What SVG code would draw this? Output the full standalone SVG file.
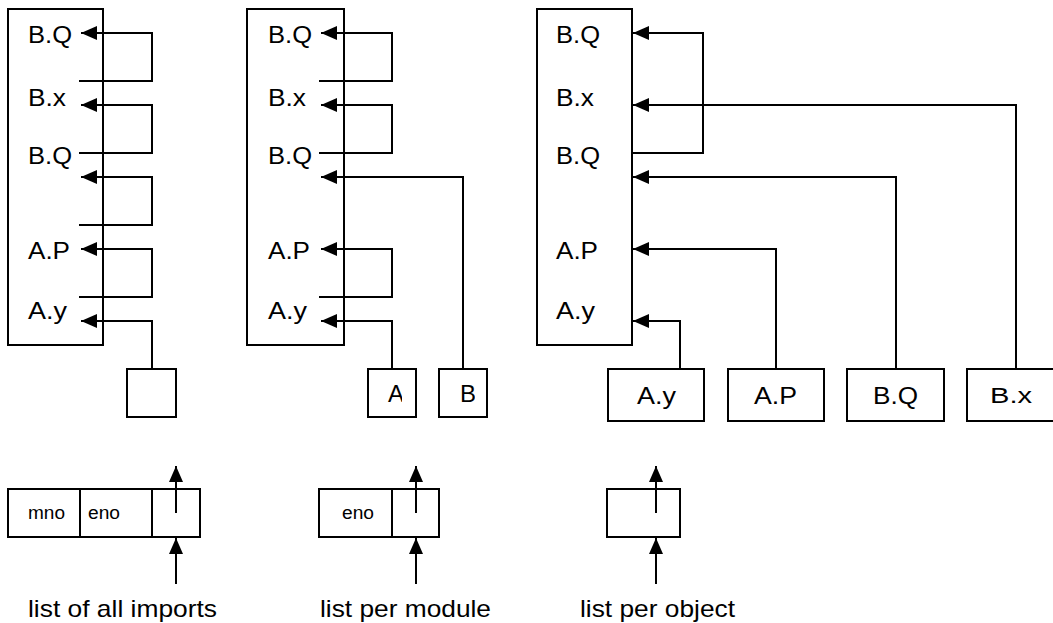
<svg xmlns="http://www.w3.org/2000/svg" width="1053" height="623" viewBox="0 0 1053 623">
<style>
rect,path,line{fill:none;stroke:#000;stroke-width:2}
rect{fill:#fff}
text{font-family:"Liberation Sans",Arial,sans-serif;font-size:24px;fill:#000}
.s{font-size:18px}
.b{font-size:22px}
</style>
<defs>
<marker id="ah" markerUnits="userSpaceOnUse" markerWidth="18" markerHeight="16" refX="16" refY="7" orient="auto">
<path d="M0,0 L16,7 L0,14 Z" style="fill:#000;stroke:none"/>
</marker>
<clipPath id="cA"><rect x="368" y="369" width="34" height="48"/></clipPath>
<clipPath id="cB"><rect x="439" y="369" width="36" height="48"/></clipPath>
</defs>
<rect x="0" y="0" width="1053" height="623" style="fill:#fff;stroke:none"/>

<g id="panel1-list">
<rect x="8" y="9" width="95" height="336"/>
<text x="28" y="43" textLength="44" lengthAdjust="spacingAndGlyphs">B.Q</text>
<text x="28" y="106" textLength="38" lengthAdjust="spacingAndGlyphs">B.x</text>
<text x="28" y="164" textLength="44" lengthAdjust="spacingAndGlyphs">B.Q</text>
<text x="28" y="259" textLength="42" lengthAdjust="spacingAndGlyphs">A.P</text>
<text x="28" y="319" textLength="39" lengthAdjust="spacingAndGlyphs">A.y</text>
</g>
<g id="panel1-head"><rect x="127" y="369" width="49" height="48"/></g>

<g id="panel2-list">
<rect x="247" y="9" width="97" height="336"/>
<text x="268" y="43" textLength="44" lengthAdjust="spacingAndGlyphs">B.Q</text>
<text x="268" y="106" textLength="38" lengthAdjust="spacingAndGlyphs">B.x</text>
<text x="268" y="164" textLength="44" lengthAdjust="spacingAndGlyphs">B.Q</text>
<text x="268" y="259" textLength="42" lengthAdjust="spacingAndGlyphs">A.P</text>
<text x="268" y="319" textLength="39" lengthAdjust="spacingAndGlyphs">A.y</text>
</g>
<g id="panel2-A"><rect x="368" y="369" width="48" height="48"/><text x="388" y="402" clip-path="url(#cA)">A</text></g>
<g id="panel2-B"><rect x="439" y="369" width="48" height="48"/><text x="460" y="402" clip-path="url(#cB)">B</text></g>

<g id="panel3-list">
<rect x="537" y="9" width="95" height="336"/>
<text x="556" y="43" textLength="44" lengthAdjust="spacingAndGlyphs">B.Q</text>
<text x="556" y="106" textLength="38" lengthAdjust="spacingAndGlyphs">B.x</text>
<text x="556" y="164" textLength="44" lengthAdjust="spacingAndGlyphs">B.Q</text>
<text x="556" y="259" textLength="42" lengthAdjust="spacingAndGlyphs">A.P</text>
<text x="556" y="319" textLength="39" lengthAdjust="spacingAndGlyphs">A.y</text>
</g>
<g id="obj-Ay"><rect x="608" y="369" width="96" height="52"/><text x="637" y="404" textLength="39" lengthAdjust="spacingAndGlyphs">A.y</text></g>
<g id="obj-AP"><rect x="728" y="369" width="96" height="52"/><text x="754" y="404" textLength="43" lengthAdjust="spacingAndGlyphs">A.P</text></g>
<g id="obj-BQ"><rect x="847" y="369" width="97" height="52"/><text x="873" y="404" textLength="45" lengthAdjust="spacingAndGlyphs">B.Q</text></g>
<g id="obj-Bx"><rect x="967" y="369" width="90" height="52"/><text class="b" x="990" y="403" textLength="42" lengthAdjust="spacingAndGlyphs">B.x</text></g>

<g id="rec-all">
<rect x="8" y="489" width="192" height="48"/>
<line x1="80" y1="489" x2="80" y2="537"/>
<line x1="152" y1="489" x2="152" y2="537"/>
<text class="s" x="28" y="519" textLength="37" lengthAdjust="spacingAndGlyphs">mno</text>
<text class="s" x="88" y="519" textLength="32" lengthAdjust="spacingAndGlyphs">eno</text>
</g>
<g id="rec-module">
<rect x="319" y="489" width="120" height="48"/>
<line x1="392" y1="489" x2="392" y2="537"/>
<text class="s" x="342" y="519" textLength="32" lengthAdjust="spacingAndGlyphs">eno</text>
</g>
<g id="rec-object"><rect x="607" y="489" width="73" height="48"/></g>

<g id="captions">
<text x="28" y="617" textLength="189" lengthAdjust="spacingAndGlyphs">list of all imports</text>
<text x="320" y="617" textLength="171" lengthAdjust="spacingAndGlyphs">list per module</text>
<text x="580" y="617" textLength="155" lengthAdjust="spacingAndGlyphs">list per object</text>
</g>

<g id="connectors" marker-end="url(#ah)">
<path d="M79,81 H152 V33 H81"/>
<path d="M79,153 H152 V105 H81"/>
<path d="M79,225 H152 V177 H81"/>
<path d="M79,297 H152 V249 H81"/>
<path d="M152,369 V321 H81"/>

<path d="M319,81 H392 V33 H321"/>
<path d="M319,153 H392 V105 H321"/>
<path d="M463,369 V177 H321"/>
<path d="M319,297 H392 V249 H321"/>
<path d="M392,369 V321 H321"/>

<path d="M632,153 H703 V33 H633"/>
<path d="M1016,369 V105 H633"/>
<path d="M896,369 V177 H633"/>
<path d="M776,369 V249 H633"/>
<path d="M680,369 V321 H633"/>

<path d="M176,513 V466"/>
<path d="M176,584 V538"/>
<path d="M416,513 V466"/>
<path d="M416,584 V538"/>
<path d="M656,513 V466"/>
<path d="M656,584 V538"/>
</g>
</svg>
